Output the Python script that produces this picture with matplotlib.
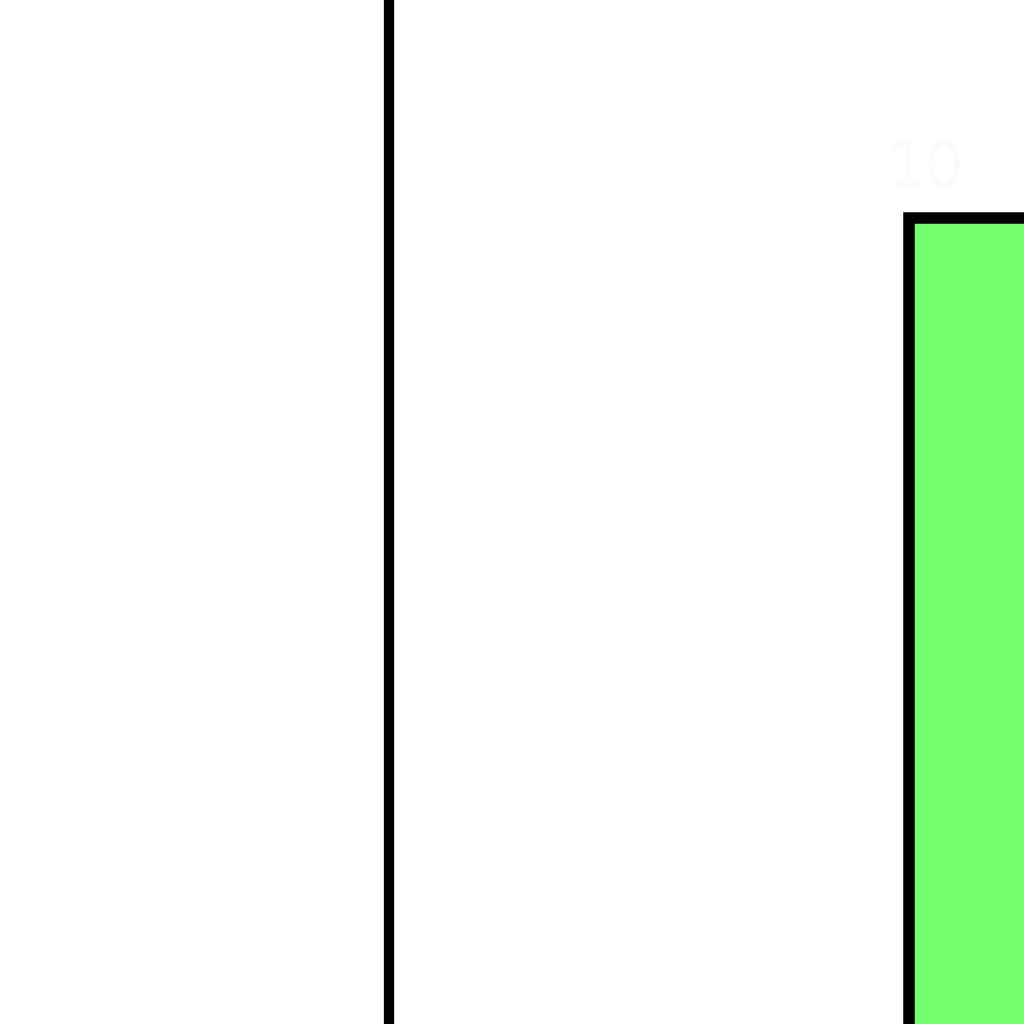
import matplotlib
matplotlib.use("Agg")
import matplotlib.pyplot as plt

# Data (zoomed-in view of a bar chart)
categories = [1.0]          # bar position (category index)
values = [10.0]             # bar height
ref_lines = [0.0]           # vertical reference line position
bar_labels = ["10"]         # faint label text

fig = plt.figure(figsize=(10.24, 10.24), dpi=100)
ax = fig.add_axes([0, 0, 1, 1])
ax.bar(categories, values, width=0.8, color="#74FF6E", edgecolor="black",
       linewidth=8.3, zorder=2)
for x in ref_lines:
    ax.axvline(x, color="black", linewidth=7.4, zorder=3)
ax.text(0.618, 10.24, bar_labels[0], color="#fafbfa", fontsize=44,
        ha="center", va="center", zorder=1)
ax.set_xlim(-0.4484, 0.7320)
ax.set_ylim(6.0, 11.08)
ax.axis("off")
fig.savefig("out.png", dpi=100, facecolor="white")
